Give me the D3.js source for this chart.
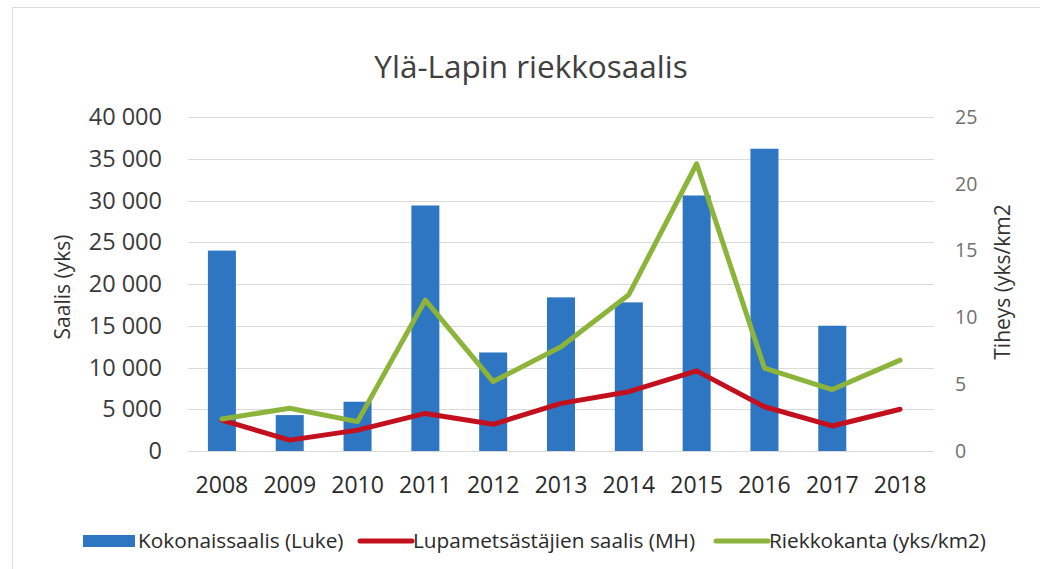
<!DOCTYPE html>
<html>
<head>
<meta charset="utf-8">
<script src="https://cdn.jsdelivr.net/npm/d3@7"></script>
<style>
  body { margin: 0; background: #fff; }
  svg { font-family: "Open Sans", sans-serif; }
</style>
</head>
<body>
<svg id="chart" width="1040" height="569"></svg>
<script>
// data
const years = ["2008", "2009", "2010", "2011", "2012", "2013", "2014", "2015", "2016", "2017", "2018"];
const kokonaissaalis = [24000, 4300, 5900, 29400, 11800, 18400, 17800, 30600, 36200, 15000, null];
const lupaSaalis = [3700, 1300, 2500, 4500, 3200, 5700, 7100, 9600, 5300, 3000, 5000];
const riekkokanta = [2.4, 3.2, 2.2, 11.3, 5.2, 7.8, 11.7, 21.5, 6.2, 4.6, 6.8];
const leftTicks = [0, 5000, 10000, 15000, 20000, 25000, 30000, 35000, 40000];
const rightTicks = [0, 5, 10, 15, 20, 25];
const seriesNames = ["Kokonaissaalis (Luke)", "Lupametsästäjien saalis (MH)", "Riekkokanta (yks/km2)"];

const colors = { bar: "#2e75c2", red: "#c2101e", green: "#8db43a" };

const svg = d3.select("#chart");
const margin = { top: 117, right: 106, bottom: 118, left: 188 };
const width = 1040 - margin.left - margin.right;
const height = 569 - margin.top - margin.bottom;

// chart frame
svg.append("rect")
    .attr("x", 12.5).attr("y", 7.5)
    .attr("width", 1040).attr("height", 600)
    .attr("fill", "none").attr("stroke", "#dcdcdc");

const fi = d3.formatLocale({ decimal: ",", thousands: " ", grouping: [3], currency: ["", " €"] });
const fmt = fi.format(",d");

const x = d3.scaleBand().domain(years).range([0, width]).paddingInner(0.587).paddingOuter(0.2935);
const y = d3.scaleLinear().domain([0, 40000]).range([height, 0]);
const y2 = d3.scaleLinear().domain([0, 25]).range([height, 0]);
const cx = d => x(d) + x.bandwidth() / 2;

const g = svg.append("g").attr("transform", "translate(" + margin.left + "," + margin.top + ")");

// gridlines
g.append("g").selectAll("line").data(leftTicks).join("line")
    .attr("x1", 0).attr("x2", width)
    .attr("y1", d => Math.round(y(d)) + 0.5).attr("y2", d => Math.round(y(d)) + 0.5)
    .attr("stroke", "#dadada").attr("stroke-width", 1.2);

// left axis
const yAxis = g.append("g")
    .call(d3.axisLeft(y).tickValues(leftTicks).tickFormat(fmt).tickSize(0).tickPadding(26));
yAxis.select(".domain").remove();
yAxis.selectAll("text").attr("font-size", 23.5).attr("fill", "#3a3a3a").attr("font-family", "Open Sans");

// right axis
const y2Axis = g.append("g").attr("transform", "translate(" + width + ",0)")
    .call(d3.axisRight(y2).tickValues(rightTicks).tickSize(0).tickPadding(21));
y2Axis.select(".domain").remove();
y2Axis.selectAll("text").attr("font-size", 19.5).attr("fill", "#707070").attr("font-family", "Open Sans");

// x axis
const xAxis = g.append("g").attr("transform", "translate(0," + height + ")")
    .call(d3.axisBottom(x).tickSize(0).tickPadding(26));
xAxis.select(".domain").remove();
xAxis.selectAll("text").attr("font-size", 23).attr("fill", "#2a2a2a").attr("font-family", "Open Sans");

// bars
g.append("g").selectAll("rect")
    .data(years.map((yr, i) => ({ yr, v: kokonaissaalis[i] })).filter(d => d.v != null))
    .join("rect")
    .attr("x", d => x(d.yr)).attr("width", x.bandwidth())
    .attr("y", d => y(d.v)).attr("height", d => height - y(d.v))
    .attr("fill", colors.bar);

// lines
const redLine = d3.line().x((d, i) => cx(years[i])).y(d => y(d));
const greenLine = d3.line().x((d, i) => cx(years[i])).y(d => y2(d));

g.append("path").datum(lupaSaalis).attr("d", redLine)
    .attr("fill", "none").attr("stroke", colors.red).attr("stroke-width", 5)
    .attr("stroke-linejoin", "round").attr("stroke-linecap", "round");
g.append("path").datum(riekkokanta).attr("d", greenLine)
    .attr("fill", "none").attr("stroke", colors.green).attr("stroke-width", 5)
    .attr("stroke-linejoin", "round").attr("stroke-linecap", "round");

// title
svg.append("text")
    .attr("x", 531).attr("y", 78)
    .attr("text-anchor", "middle")
    .attr("font-size", 31.5).attr("fill", "#404040")
    .text("Ylä-Lapin riekkosaalis");

// axis titles
svg.append("text")
    .attr("transform", "translate(70,287) rotate(-90)")
    .attr("text-anchor", "middle")
    .attr("font-size", 21).attr("fill", "#333")
    .text("Saalis (yks)");
svg.append("text")
    .attr("transform", "translate(1010,282) rotate(-90)")
    .attr("text-anchor", "middle")
    .attr("font-size", 21).attr("fill", "#333")
    .text("Tiheys (yks/km2");

// legend
const legend = svg.append("g").attr("transform", "translate(0,541)");
const legendX = [83, 358, 714];
const legendKinds = ["bar", "red", "green"];
seriesNames.forEach((name, i) => {
    const lg = legend.append("g").attr("transform", "translate(" + legendX[i] + ",0)");
    if (legendKinds[i] === "bar") {
        lg.append("rect").attr("x", 0).attr("y", -6).attr("width", 52).attr("height", 12).attr("fill", colors.bar);
    } else {
        lg.append("line").attr("x1", 2).attr("x2", 54).attr("y1", 0).attr("y2", 0)
            .attr("stroke", colors[legendKinds[i]]).attr("stroke-width", 5).attr("stroke-linecap", "round");
    }
    lg.append("text").attr("x", 55).attr("y", 0).attr("dy", "0.35em")
        .attr("font-size", 20.8).attr("fill", "#2a2a2a")
        .text(name);
});
</script>
</body>
</html>
